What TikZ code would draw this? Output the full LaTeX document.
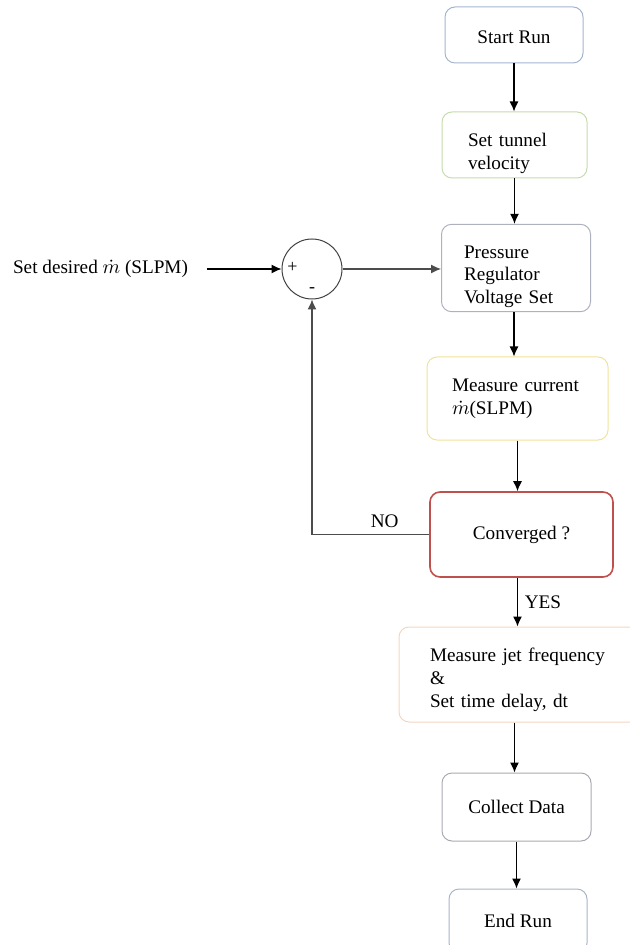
\documentclass[tikz,border=0pt]{standalone}
\usepackage{amsmath}
\usepackage{fontspec}
\setmainfont{Liberation Serif}
\usetikzlibrary{arrows.meta}
\definecolor{startc}{HTML}{A3B4CF}
\definecolor{tunnelc}{HTML}{C6DBAE}
\definecolor{pressc}{HTML}{AEB2BF}
\definecolor{curc}{HTML}{EFE39A}
\definecolor{convc}{HTML}{C0504D}
\definecolor{jetc}{HTML}{F3D6C2}
\definecolor{collc}{HTML}{A9A9B2}
\definecolor{endc}{HTML}{A8B4C8}
\newcommand{\lowtext}{\rule{0pt}{15pt}}
\tikzset{
  flowbox/.style={draw,rounded corners=5pt,line width=0.5pt,inner ysep=2pt},
  leftbox/.style={flowbox,align=left},
  sumnode/.style={draw=black!75,circle,line width=0.5pt,minimum size=30pt,inner sep=0pt},
  flow/.style={-{Latex[length=5pt,width=4.5pt]},line width=0.6pt}
}

\begin{document}
\begin{tikzpicture}[x=0.5pt,y=-0.5pt,font=\fontsize{9.6}{11.3}\selectfont]
    \useasboundingbox (0,0) rectangle (629,945);
    % main column
    \node[flowbox,draw=startc,minimum width=69pt,minimum height=28pt] (start) at (514,35) {\rule{0pt}{9pt}Start Run};
    \node[leftbox,draw=tunnelc,minimum height=33pt,inner xsep=13pt,text width=46.5pt] (tunnel) at (514.5,145) {\lowtext Set tunnel\\velocity};
    \node[leftbox,draw=pressc,minimum height=42pt,inner xsep=11.25pt,text width=52pt] (press) at (516,268) {\lowtext Pressure\\Regulator\\Voltage Set};
    \node[leftbox,draw=curc,minimum height=41.5pt,inner xsep=12.5pt,text width=65.5pt] (cur) at (517.5,398.5) {Measure current\\$\dot{m}$(SLPM)};
    \node[flowbox,draw=convc,line width=0.8pt,minimum width=91.5pt,minimum height=42.5pt] (conv) at (521.5,534.5) {Converged ?};
    \node[leftbox,draw=jetc,minimum height=47.5pt,inner xsep=15.5pt,text width=89.5pt] (jet) at (519.5,674.5) {\rule{0pt}{12pt}Measure jet frequency\\\&\\Set time delay, dt};
    \node[flowbox,draw=collc,minimum width=74.5pt,minimum height=34pt] (coll) at (516.5,807) {Collect Data};
    \node[flowbox,draw=endc,minimum width=69pt,minimum height=32pt] (end) at (518,921) {End Run};
    % summing junction
    \node[sumnode] (sum) at (312,269) {};
    \node[font=\small,inner sep=0pt] at ([xshift=5.5pt,yshift=1pt]sum.west) {+};
    \node[font=\small,inner sep=0pt] at ([yshift=4.5pt]sum.south) {-};
    \node[anchor=west] (desired) at (6,269) {Set desired $\dot{m}$ (SLPM)};
    % connectors
    \draw[flow,shorten <=6pt] (desired.east) -- (sum.west);
    \draw[flow,draw=black!70] (sum.east) -- (sum.east -| press.west);
    \draw[flow] (start.south) -- (start.south |- tunnel.north);
    \draw[flow] (tunnel.south) -- (tunnel.south |- press.north);
    \draw[flow] ([xshift=-1pt]press.south) -- ([xshift=-1pt]press.south |- cur.north);
    \draw[flow] (cur.south) -- (cur.south |- conv.north);
    \draw[flow] ([xshift=-2pt]conv.south) -- ([xshift=-2pt]conv.south |- jet.north) node[midway,right] {YES};
    \draw[flow] ([xshift=-2.5pt]jet.south) -- ([xshift=-2.5pt]jet.south |- coll.north);
    \draw[flow] (coll.south) -- (coll.south |- end.north);
    \draw[flow,draw=black!70] (conv.west) -- (sum |- conv.west) node[pos=0.38,above] {NO} -- (sum.south);
\end{tikzpicture}
\end{document}
